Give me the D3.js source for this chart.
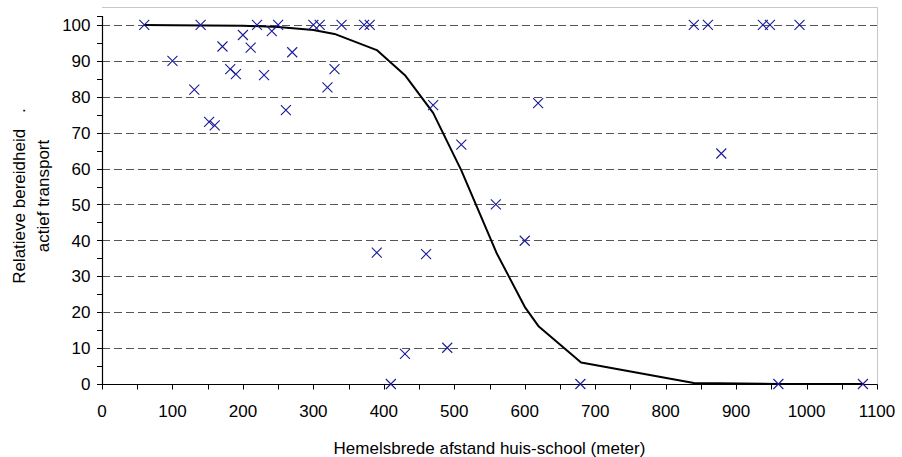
<!DOCTYPE html>
<html>
<head>
<meta charset="utf-8">
<script src="https://cdn.jsdelivr.net/npm/d3@7/dist/d3.min.js"></script>
<style>
  html, body { margin: 0; padding: 0; background: #fff; }
  svg { display: block; }
  text { font-family: "Liberation Sans", Arial, sans-serif; fill: #000; }
</style>
</head>
<body>
<svg id="chart" width="902" height="457"></svg>
<script>
// Observed schools: straight-line distance home-school (m) and relative willingness (%)
const distX = [60, 100, 131, 140, 152, 160, 171, 182, 190, 200,
               211, 220, 230, 241, 250, 261, 270, 300, 309, 320,
               330, 340, 372, 380, 390, 410, 430, 460, 470, 490,
               510, 559, 600, 619, 679, 840, 860, 879, 938, 948,
               960, 990, 1080];
const relY = [100, 90, 82, 100, 73, 72, 94, 87.7, 86.3, 97.2,
              93.7, 100, 86, 98.3, 100, 76.3, 92.4, 100, 100, 82.6,
              87.7, 100, 100, 100, 36.6, 0, 8.4, 36.2, 77.7, 10.1,
              66.7, 50, 39.9, 78.2, 0, 100, 100, 64.2, 100, 100,
              0, 100, 0];

// Fitted curve, sampled at the distances where it changes direction
const fitX = [60, 100, 200, 250, 300, 330, 390, 430, 470, 510, 560, 600, 620, 680, 840, 960, 1080];
const fitY = [100, 99.9, 99.8, 99.4, 98.6, 97.5, 93, 86, 75.5, 59.5, 36.5, 21.5, 16, 6, 0.3, 0, 0];

// Axis ticks
const xTicks = [0, 100, 200, 300, 400, 500, 600, 700, 800, 900, 1000, 1100];
const xMinorTicks = [0, 50, 100, 150, 200, 250, 300, 350, 400, 450, 500, 550, 600, 650, 700, 750, 800, 850, 900, 950, 1000, 1050, 1100];
const yTicks = [0, 10, 20, 30, 40, 50, 60, 70, 80, 90, 100];
const yMinorTicks = [0, 5, 10, 15, 20, 25, 30, 35, 40, 45, 50, 55, 60, 65, 70, 75, 80, 85, 90, 95, 100, 102.5];

const xTitle = "Hemelsbrede afstand huis-school (meter)";
const yTitle1 = "Relatieve bereidheid";
const yTitle2 = "actief transport";

const svg = d3.select("#chart");
const x = d3.scaleLinear().domain([0, 1100]).range([102, 877]);
const y = d3.scaleLinear().domain([0, 105]).range([384, 7]);

// Plot-area frame (top and right edges)
svg.append("path")
  .attr("d", `M${x(0)},${y(105) + 0.5}H${x(1100) + 0.5}V${y(0)}`)
  .attr("fill", "none").attr("stroke", "#c8c8c8").attr("stroke-width", 1);

// Dashed horizontal gridlines
svg.append("g").selectAll("line").data(yTicks.filter(d => d > 0)).join("line")
  .attr("x1", x(0)).attr("x2", x(1100))
  .attr("y1", d => Math.round(y(d)) + 0.5).attr("y2", d => Math.round(y(d)) + 0.5)
  .attr("stroke", "#555").attr("stroke-width", 1.2)
  .attr("stroke-dasharray", "8,4");

// Y axis: line, ticks every 5, labels every 10
const yAxis = svg.append("g").attr("transform", `translate(${x(0) + 0.5},0)`);
yAxis.append("line").attr("x1", 0).attr("x2", 0)
  .attr("y1", y(102.5)).attr("y2", y(0) + 0.5)
  .attr("stroke", "#000").attr("stroke-width", 1.2);
yAxis.selectAll("line.tick").data(yMinorTicks).join("line").attr("class", "tick")
  .attr("x1", -5.5).attr("x2", 0)
  .attr("y1", d => Math.round(y(d)) + 0.5).attr("y2", d => Math.round(y(d)) + 0.5)
  .attr("stroke", "#000").attr("stroke-width", 1);
yAxis.selectAll("text").data(yTicks).join("text")
  .attr("x", -12).attr("y", d => y(d)).attr("dy", "0.36em")
  .attr("text-anchor", "end").attr("font-size", 17)
  .text(d => d);

// X axis: line, ticks every 50, labels every 100
const xAxis = svg.append("g").attr("transform", `translate(0,${Math.round(y(0)) + 0.5})`);
xAxis.append("line").attr("x1", x(0) - 5).attr("x2", x(1100) + 0.5)
  .attr("y1", 0).attr("y2", 0)
  .attr("stroke", "#000").attr("stroke-width", 1.2);
xAxis.selectAll("line.tick").data(xMinorTicks).join("line").attr("class", "tick")
  .attr("x1", d => Math.round(x(d)) + 0.5).attr("x2", d => Math.round(x(d)) + 0.5)
  .attr("y1", 0).attr("y2", 5)
  .attr("stroke", "#000").attr("stroke-width", 1);
xAxis.selectAll("text").data(xTicks).join("text")
  .attr("x", d => x(d)).attr("y", 32)
  .attr("text-anchor", "middle").attr("font-size", 17)
  .text(d => d);

// Fitted curve
svg.append("path")
  .datum(fitX.map((d, i) => [d, fitY[i]]))
  .attr("fill", "none").attr("stroke", "#000").attr("stroke-width", 2)
  .attr("stroke-linejoin", "round")
  .attr("d", d3.line().x(d => x(d[0])).y(d => y(d[1])));

// Observations as X markers
const s = 5;
svg.append("g").selectAll("path").data(distX.map((d, i) => [d, relY[i]])).join("path")
  .attr("transform", d => `translate(${x(d[0])},${y(d[1])})`)
  .attr("d", `M${-s},${-s}L${s},${s}M${-s},${s}L${s},${-s}`)
  .attr("fill", "none").attr("stroke", "#1a1a9a").attr("stroke-width", 1.1);

// Axis titles
svg.append("text")
  .attr("x", (x(0) + x(1100)) / 2).attr("y", 454)
  .attr("text-anchor", "middle").attr("font-size", 17)
  .text(xTitle);

const yt = svg.append("text")
  .attr("transform", "translate(25,196) rotate(-90)")
  .attr("text-anchor", "middle").attr("font-size", 17);
yt.append("tspan").attr("x", 0).attr("y", 0).text(yTitle1);
yt.append("tspan").attr("dx", 16).text(".");
svg.append("text")
  .attr("transform", "translate(49,196) rotate(-90)")
  .attr("text-anchor", "middle").attr("font-size", 17)
  .text(yTitle2);
</script>
</body>
</html>
